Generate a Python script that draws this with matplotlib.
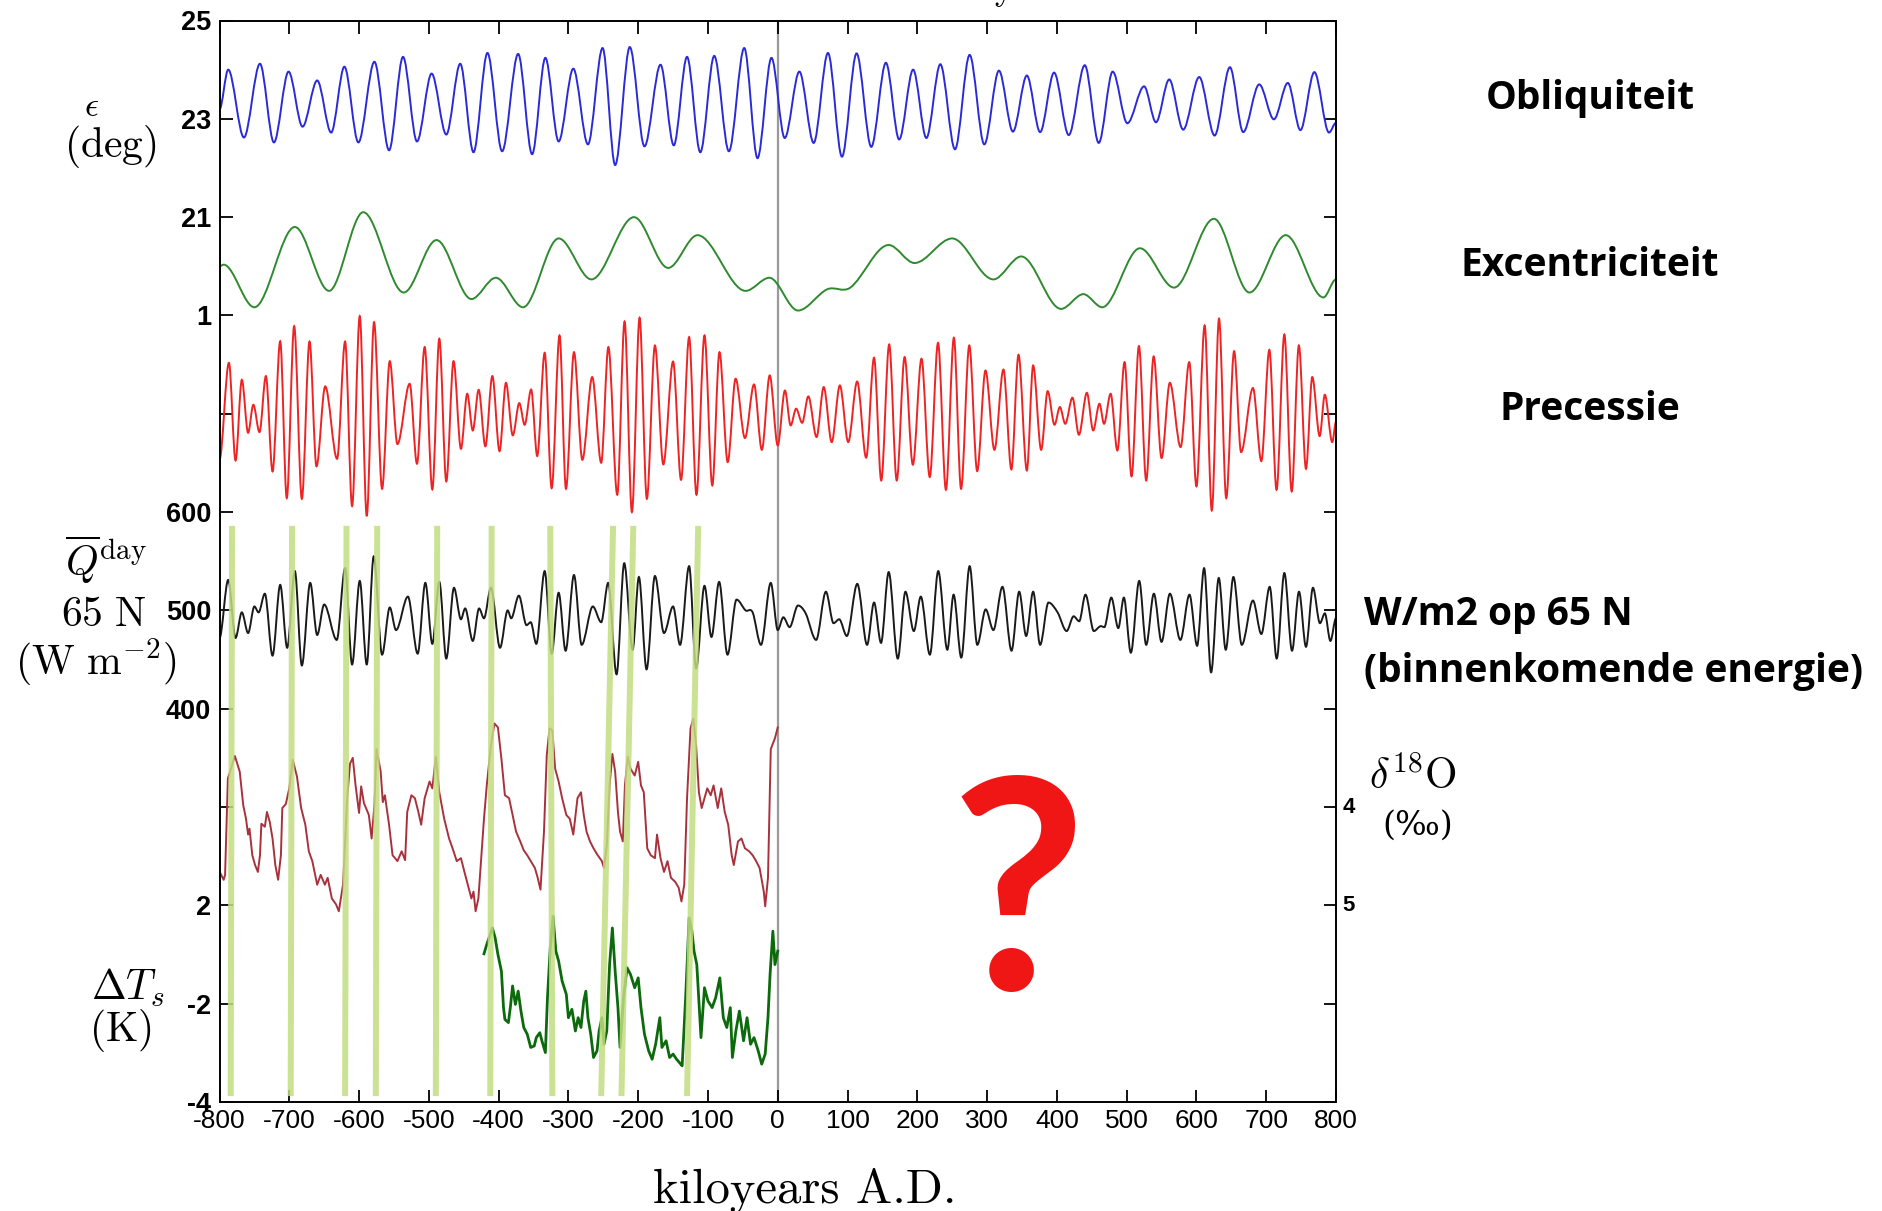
import numpy as np
import matplotlib
matplotlib.use("Agg")
import matplotlib.pyplot as plt
from matplotlib.path import Path
from matplotlib.patches import PathPatch

plt.rcParams["mathtext.fontset"] = "cm"
plt.rcParams["font.family"] = ["Liberation Sans", "DejaVu Sans"]

W, H = 1882, 1211

# ---------------- data (kyr, value) ----------------
# obliquity (degrees), extrema
obl_t = [-800, -787.5, -765, -742, -722, -701, -681, -660, -640, -621, -601, -578, -557, -537,
         -517, -496, -475, -455, -436, -416, -395, -372, -352, -333, -314, -293, -272, -251,
         -233, -212, -191, -168, -149, -130, -111, -91, -70, -48, -29, -9,
         10, 31, 51.5, 72, 92, 113, 134, 155, 174, 194, 213, 233, 254, 275, 296, 317, 337,
         357, 376, 396, 417, 440, 460, 480, 501, 525, 542, 561, 581, 604, 626, 648, 667,
         690, 711, 731, 749, 769, 790, 800]
obl_v = [23.19, 24.00, 22.62, 24.12, 22.52, 23.96, 22.84, 23.78, 22.72, 24.06, 22.52, 24.16,
         22.36, 24.26, 22.54, 23.92, 22.68, 24.12, 22.32, 24.34, 22.34, 24.32, 22.28, 24.24,
         22.54, 24.02, 22.48, 24.44, 22.06, 24.46, 22.44, 24.10, 22.46, 24.26, 22.32, 24.28,
         22.34, 24.44, 22.20, 24.24,
         22.61, 23.96, 22.51, 24.34, 22.23, 24.33, 22.43, 24.14, 22.58, 24.00, 22.61, 24.11,
         22.38, 24.30, 22.48, 23.98, 22.74, 23.88, 22.73, 23.94, 22.67, 24.09, 22.51, 23.96,
         22.91, 23.66, 22.93, 23.80, 22.78, 23.85, 22.66, 24.05, 22.73, 23.70, 22.99, 23.73,
         22.77, 23.95, 22.72, 22.92]

# eccentricity
ecc_t = [-800, -794, -750, -692, -643, -594, -536, -489, -439, -404, -365, -314, -267, -206,
         -157, -115, -46, -12, 29, 71, 104, 159, 196, 250, 309, 349, 406, 438, 465, 519, 568,
         625, 676, 728, 782, 800]
ecc_v = [0.030, 0.031, 0.005, 0.054, 0.015, 0.063, 0.014, 0.046, 0.010, 0.023, 0.005, 0.047,
         0.022, 0.060, 0.029, 0.049, 0.015, 0.023, 0.003, 0.016, 0.017, 0.043, 0.032, 0.047,
         0.022, 0.036, 0.004, 0.013, 0.005, 0.041, 0.017, 0.059, 0.014, 0.049, 0.011, 0.022]

# precession index
pre_t = [-800, -786.5, -777, -768, -759, -751.5, -742.7, -733.5, -724, -713,
         -703.6, -693, -682, -671, -661, -648.5, -631.5, -620, -610, -599,
         -589, -578.5, -567, -556, -545, -527.5, -517, -506, -495, -485,
         -475, -464.6, -454, -445, -437, -428.6, -419, -409, -398.7, -389.5,
         -379.7, -370.4, -362.7, -353.4, -344.7, -334, -324, -312.7, -303.5, -292,
         -280, -265.9, -253, -242.7, -230, -219.5, -209, -198, -187.6, -176,
         -164, -150, -138.6, -127, -116.5, -105, -93.8, -83.5, -71.7, -60.4,
         -47, -34, -22.8, -11.5, 0,
         10.3, 18.5, 26.3, 35, 43.8, 55.6, 65.9, 77.3, 89, 101,
         113.8, 126.7, 138, 148.3, 159.7, 170.5, 181.8, 193.6, 206, 217.8,
         229.7, 241, 252.4, 262.7, 274.5, 285.8, 297.7, 310.5, 323.4, 334.8,
         345, 357, 366, 377.5, 386.8, 396.6, 404.3, 412, 422.3, 431.6,
         443, 452, 461, 467.6, 477, 486.7, 497, 507, 517.6, 528,
         538.7, 550, 561.9, 577.3, 589.7, 600, 611.8, 622, 632.4, 642.7,
         654, 664, 681, 693, 704.5, 714.8, 726, 736.5, 746.8, 757,
         766, 776.6, 784, 794.6, 800]
pre_v = [-0.028, 0.0311, -0.0285, 0.0207, -0.0116, 0.0055, -0.0112, 0.0230, -0.0352, 0.0443,
         -0.0515, 0.0535, -0.0519, 0.0441, -0.0321, 0.0167, -0.0275, 0.0441, -0.0563, 0.0596,
         -0.0624, 0.0559, -0.0458, 0.0321, -0.0185, 0.0183, -0.0305, 0.0407, -0.0462, 0.0458,
         -0.0413, 0.0321, -0.0214, 0.0122, -0.0102, 0.0146, -0.0199, 0.0230, -0.0228, 0.0189,
         -0.0132, 0.0065, -0.0067, 0.0148, -0.0258, 0.0372, -0.0454, 0.0478, -0.0458, 0.0376,
         -0.0281, 0.0224, -0.0299, 0.0407, -0.0494, 0.0563, -0.0600, 0.0586, -0.0519, 0.0417,
         -0.0309, 0.0319, -0.0403, 0.0468, -0.0494, 0.0478, -0.0437, 0.0376, -0.0295, 0.0214,
         -0.0148, 0.0179, -0.0220, 0.0234, -0.0193,
         0.0142, -0.0071, 0.0031, -0.0055, 0.0106, -0.0142, 0.0163, -0.0173, 0.0173, -0.0173,
         0.0197, -0.0268, 0.0342, -0.0407, 0.0423, -0.0407, 0.0346, -0.0311, 0.0336, -0.0386,
         0.0433, -0.0464, 0.0464, -0.0458, 0.0417, -0.0350, 0.0264, -0.0220, 0.0270, -0.0340,
         0.0360, -0.0346, 0.0295, -0.0220, 0.0138, -0.0067, 0.0041, -0.0061, 0.0098, -0.0128,
         0.0128, -0.0102, 0.0061, -0.0061, 0.0122, -0.0224, 0.0315, -0.0382, 0.0413, -0.0407,
         0.0350, -0.0270, 0.0189, -0.0203, 0.0315, -0.0443, 0.0539, -0.0590, 0.0580, -0.0515,
         0.0382, -0.0234, 0.0157, -0.0289, 0.0390, -0.0464, 0.0484, -0.0474, 0.0417, -0.0336,
         0.0224, -0.0136, 0.0116, -0.0173, -0.005]

# mean daily insolation at 65 N (W m-2)
ins_t = [-800, -787.5, -777, -768, -759, -750, -744, -735, -724, -713,
         -703, -692, -682, -670, -660, -650, -632, -620, -610, -599,
         -589, -579, -567, -556, -547, -530, -516, -505, -495, -485,
         -475, -464, -454, -448, -437, -428, -421, -411, -398, -387,
         -382, -371, -360, -354, -346, -334, -324, -314, -304, -292,
         -281, -265, -253, -243, -231, -220, -208, -199, -188, -176,
         -163, -150, -140, -127, -117, -105, -95, -84, -72, -59,
         -46, -36, -24, -10, 0,
         8, 17, 29, 40, 55, 69, 80, 88, 99, 114,
         128, 138, 148, 159, 172, 183, 195, 205, 218, 230,
         243, 252, 263, 275, 286, 298, 309, 322, 335, 346,
         356, 366, 376, 388, 401, 414, 424, 432, 441, 453,
         463, 468, 478, 488, 496, 506, 518, 528, 539, 550,
         562, 577, 590, 601, 611, 621, 632, 642, 653, 665,
         681, 693, 705, 715, 726, 737, 747, 757, 767, 777,
         784, 792, 800]
ins_v = [472, 531, 472, 498, 477, 504, 498, 517, 454, 526,
         462, 540, 444, 528, 475, 506, 470, 543, 445, 530,
         445, 555, 455, 503, 480, 514, 456, 528, 466, 529,
         451, 523, 491, 502, 469, 502, 492, 523, 462, 500,
         492, 515, 485, 488, 466, 540, 456, 518, 459, 536,
         465, 504, 488, 528, 435, 548, 460, 534, 440, 535,
         477, 504, 465, 545, 441, 525, 473, 529, 455, 511,
         500, 498, 465, 528, 480,
         493, 483, 505, 497, 470, 519, 487, 491, 474, 527,
         465, 508, 467, 539, 451, 519, 479, 514, 455, 540,
         460, 516, 452, 545, 465, 501, 480, 524, 459, 519,
         474, 519, 465, 508, 498, 479, 494, 489, 516, 479,
         484, 483, 513, 482, 513, 457, 530, 465, 517, 468,
         517, 470, 516, 464, 543, 437, 533, 460, 534, 465,
         510, 476, 524, 451, 538, 459, 519, 463, 523, 487,
         497, 469, 492]

# benthic d18O (per mil)
d18_t = [-799, -794, -792, -788, -778, -771, -766, -762, -759, -757,
         -753, -749, -745, -742, -740, -735, -732, -728, -724, -720,
         -716, -712, -710, -705, -700, -695, -689, -683, -677, -672,
         -667, -660, -655, -649, -645, -639, -633, -629, -623, -617,
         -613, -609, -605, -600, -597, -593, -586, -582, -578, -575,
         -569, -566, -563, -557, -552, -545, -539, -534, -531, -525,
         -520, -515, -511, -506, -499, -495, -490, -485, -478, -471,
         -466, -460, -454, -449, -443, -439, -436, -433, -429, -425,
         -421, -417, -411, -406, -401, -396, -391, -385, -380, -375,
         -369, -364, -359, -354, -348, -344, -340, -335, -331, -327,
         -323, -319, -314, -309, -303, -298, -293, -287, -282, -278,
         -274, -269, -264, -258, -252, -249, -245, -241, -237, -233,
         -229, -226, -222, -219, -215, -211, -205, -200, -196, -192,
         -187, -182, -176, -173, -168, -163, -158, -153, -147, -142,
         -138, -134, -130, -125, -121, -117, -113, -109, -105, -101,
         -96, -92, -86, -81, -76, -71, -66, -63, -57, -52,
         -47, -41, -36, -31, -26, -20, -18, -14, -10, -4, 0]
d18_v = [4.67, 4.74, 4.69, 3.71, 3.48, 3.64, 3.98, 4.12, 4.28, 4.22,
         4.49, 4.59, 4.66, 4.49, 4.17, 4.20, 4.05, 4.15, 4.32, 4.59,
         4.74, 4.49, 4.01, 3.97, 3.81, 3.52, 3.69, 4.01, 4.18, 4.45,
         4.55, 4.79, 4.69, 4.79, 4.72, 4.93, 4.99, 5.06, 4.79, 3.91,
         3.56, 3.50, 3.78, 4.06, 3.79, 3.96, 4.08, 4.32, 3.98, 3.41,
         3.64, 3.95, 3.88, 4.18, 4.49, 4.55, 4.45, 4.54, 4.05, 3.88,
         3.91, 4.05, 4.18, 3.91, 3.74, 3.81, 3.49, 3.85, 4.12, 4.32,
         4.42, 4.55, 4.52, 4.66, 4.82, 4.93, 4.86, 5.06, 4.93, 4.52,
         4.12, 3.78, 3.37, 3.15, 3.19, 3.51, 3.88, 3.91, 4.08, 4.25,
         4.35, 4.44, 4.49, 4.55, 4.62, 4.72, 4.84, 4.25, 3.47, 3.20,
         3.22, 3.61, 3.74, 3.91, 4.08, 4.12, 4.28, 3.91, 3.85, 4.08,
         4.25, 4.35, 4.42, 4.49, 4.55, 4.62, 4.39, 3.78, 3.46, 3.64,
         4.05, 4.25, 4.35, 3.78, 3.49, 3.61, 3.68, 3.54, 3.78, 3.85,
         4.42, 4.49, 4.52, 4.28, 4.52, 4.66, 4.55, 4.72, 4.76, 4.82,
         4.96, 4.79, 3.91, 3.20, 3.10, 3.37, 3.85, 4.01, 3.91, 3.81,
         3.88, 3.78, 4.01, 3.81, 4.05, 4.18, 4.49, 4.59, 4.35, 4.32,
         4.42, 4.45, 4.49, 4.55, 4.62, 4.86, 5.01, 4.72, 3.41, 3.30, 3.19]

# Antarctic temperature anomaly (K)
dT_t = [-421, -417, -413, -409, -405, -401, -396, -393, -391, -386,
        -383, -380, -376, -372, -368, -364, -359, -354, -349, -346,
        -341, -338, -333, -330, -326, -322, -318, -314, -309, -303,
        -300, -295, -290, -286, -282, -278, -275, -272, -268, -264,
        -259, -256, -252, -249, -245, -241, -237, -233, -229, -226,
        -221, -216, -211, -205, -200, -196, -191, -185, -180, -175,
        -169, -166, -160, -155, -150, -145, -139, -137, -132, -127,
        -123, -120, -116, -110, -105, -100, -94, -89, -83, -78,
        -73, -68, -65, -60, -55, -49, -44, -39, -34, -28,
        -23, -18, -14, -11, -7, -4, 0]
dT_v = [0.03, 0.41, 0.74, 1.08, 0.68, 0.00, -0.68, -2.16, -2.64, -2.77,
        -2.10, -1.28, -2.03, -1.49, -2.30, -2.97, -3.24, -3.78, -3.72, -3.38,
        -3.18, -3.51, -3.99, -1.76, 0.27, 1.55, 0.14, -0.27, -1.08, -1.62,
        -2.57, -2.23, -3.11, -2.57, -2.97, -1.89, -1.49, -2.57, -3.24, -4.19,
        -3.92, -3.11, -2.57, -3.65, -3.11, -0.41, 1.08, -0.68, -2.16, -3.78,
        -1.76, -0.54, -0.81, -1.35, -0.95, -2.16, -3.24, -3.92, -4.26, -3.65,
        -2.57, -3.78, -3.51, -4.19, -4.05, -4.26, -4.46, -4.53, -1.76, 1.49,
        0.95, 0.14, -0.41, -3.38, -1.35, -1.89, -2.16, -1.76, -0.95, -2.57,
        -2.97, -2.16, -4.19, -3.11, -2.30, -3.51, -2.57, -3.65, -3.38, -3.92,
        -4.46, -4.05, -2.57, -0.81, 0.95, -0.41, 0.14]

# terminations marked with green bars (kyr at top, kyr at bottom)
bar_top = [-782, -696, -618, -574, -488, -410, -326, -236, -207, -114]
bar_bot = [-784, -698, -620, -576, -490, -412, -323, -253, -224, -130]

xticks = list(range(-800, 801, 100))
left_labels = ["-4", "-2", "2", "", "400", "500", "600", "", "1", "21", "23", "25"]

# ---------------- stacking of the panels (value -> slot units) ----------------
def u_obl(v): return 10 + (np.asarray(v) - 23) / 2
def u_ecc(v): return 8 + np.asarray(v) / 0.06
def u_pre(v): return 7 + np.asarray(v) / 0.06
def u_ins(v): return 5 + (np.asarray(v) - 500) / 100
def u_d18(v): return 7 - np.asarray(v)
def u_dT(v): return (np.asarray(v) + 6) / 4


def smooth_line(ax, x, y, **kw):
    # cubic curve through the read points, flat at turning points
    x = np.asarray(x, float)
    y = np.asarray(y, float)
    n = len(x)
    m = np.zeros(n)
    for i in range(1, n - 1):
        if (y[i] - y[i - 1]) * (y[i + 1] - y[i]) > 0:
            m[i] = (y[i + 1] - y[i - 1]) / (x[i + 1] - x[i - 1])
    verts = [(x[0], y[0])]
    codes = [Path.MOVETO]
    for i in range(n - 1):
        h = x[i + 1] - x[i]
        verts += [(x[i] + h / 3, y[i] + m[i] * h / 3),
                  (x[i + 1] - h / 3, y[i + 1] - m[i + 1] * h / 3),
                  (x[i + 1], y[i + 1])]
        codes += [Path.CURVE4] * 3
    ax.add_patch(PathPatch(Path(verts, codes), fill=False, zorder=2, **kw))


def fpos(x, y):
    return x / W, 1 - y / H


fig = plt.figure(figsize=(W / 100, H / 100), dpi=100)
ax = fig.add_axes([219.5 / W, 1 - 1102 / H, (1336 - 219.5) / W, (1102 - 20.5) / H])

smooth_line(ax, obl_t, u_obl(obl_v), edgecolor="#2a2ad8", lw=1.4)
smooth_line(ax, ecc_t, u_ecc(ecc_v), edgecolor="#2f8a2f", lw=1.4)
smooth_line(ax, pre_t, u_pre(pre_v), edgecolor="#ee2424", lw=1.4)
smooth_line(ax, ins_t, u_ins(ins_v), edgecolor="#1a1a1a", lw=1.4)
ax.plot(d18_t, u_d18(d18_v), color="#a8323c", lw=1.4, zorder=2)
ax.plot(dT_t, u_dT(dT_v), color="#0c6a0c", lw=2.0, zorder=2)

ax.axvline(0, color="#9a9a9a", lw=1.6, zorder=1)

for xt, xb in zip(bar_top, bar_bot):
    ax.plot([xt, xb], [5.86, 0.06], color="#c2dc80", lw=4.3, alpha=0.85,
            solid_capstyle="butt", zorder=3)

ax.set_xlim(-800, 800)
ax.set_ylim(0, 11)
ax.set_xticks(xticks)
ax.set_xticklabels([str(v) for v in xticks], fontsize=19)
ax.set_yticks(range(12))
ax.set_yticklabels(left_labels, fontsize=19.5, fontweight="bold")
ax.tick_params(axis="both", direction="in", length=9, width=1.3, top=True, right=True)
ax.tick_params(axis="x", pad=5)
ax.tick_params(axis="y", pad=6)
for s in ax.spines.values():
    s.set_linewidth(1.4)

for lab, yv in [("4", 3), ("5", 2)]:
    ax.text(1.006, yv, lab, transform=ax.get_yaxis_transform(), ha="left", va="center",
            fontsize=16, fontweight="bold")

# serif axis labels
serif = dict(ha="center", va="center", fontsize=30)
fig.text(*fpos(92, 106), r"$\epsilon$", **{**serif, "fontsize": 25})
fig.text(*fpos(110, 146), r"$\mathrm{(deg)}$", **serif)
fig.text(*fpos(106, 560), r"$\overline{Q}^{\rm day}$", **serif)
fig.text(*fpos(104, 615), r"$\mathrm{65\ N}$", **serif)
fig.text(*fpos(96, 662), r"$\mathrm{(W\ m^{-2})}$", **serif)
fig.text(*fpos(128, 988), r"$\Delta T_s$", **serif)
fig.text(*fpos(120, 1030), r"$\mathrm{(K)}$", **serif)
fig.text(*fpos(1413, 778), r"$\delta^{18}\mathrm{O}$", **serif)
fig.text(*fpos(1418, 826), "(‰)", ha="center", va="center", fontsize=24,
         family=["DejaVu Serif"])
fig.text(*fpos(805, 1190), "kiloyears A.D.", ha="center", va="center", fontsize=35,
         family=["cmr10", "DejaVu Serif"])
fig.text(785 / W, 1.0, r"$\mathrm{Past\ and\ Future\ Milankovitch\ Cycles}$",
         ha="center", va="baseline", fontsize=25)

# Dutch annotations
bold = dict(fontsize=28, fontweight="bold", family=["Open Sans", "DejaVu Sans"], va="center")
fig.text(*fpos(1590, 98), "Obliquiteit", ha="center", **bold)
fig.text(*fpos(1590, 266), "Excentriciteit", ha="center", **bold)
fig.text(*fpos(1590, 410), "Precessie", ha="center", **bold)
fig.text(*fpos(1364, 615), "W/m2 op 65 N", ha="left", **bold)
fig.text(*fpos(1364, 672), "(binnenkomende energie)", ha="left", **bold)

fig.text(*fpos(1018, 990), "?", ha="center", va="baseline", fontsize=212,
         fontweight="bold", color="#f01616", family=["Lato", "Open Sans", "DejaVu Sans"])

fig.savefig("out.png", dpi=100)
